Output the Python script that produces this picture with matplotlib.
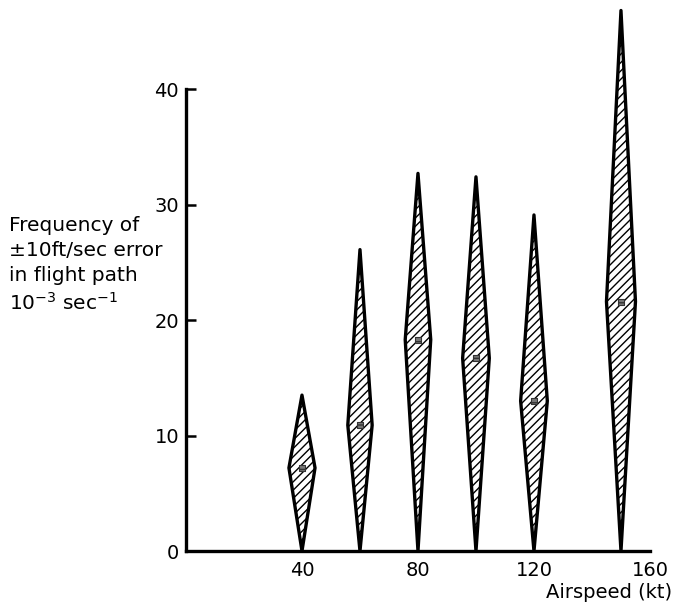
import numpy as np
import matplotlib
matplotlib.use("Agg")
import matplotlib.pyplot as plt
from matplotlib.patches import Polygon

# airspeed (kt) and error frequency (10^-3 per sec)
airspeed = [40, 60, 80, 100, 120, 150]
mean_freq = [7.2, 10.9, 18.3, 16.7, 13.0, 21.6]
max_freq = [13.5, 26.1, 32.7, 32.4, 29.1, 46.8]
min_freq = [0, 0, 0, 0, 0, 0]
half_width = [4.5, 4.2, 4.4, 4.6, 4.6, 5.0]  # diamond half width in kt

xticks = [40, 80, 120, 160]
yticks = [0, 10, 20, 30, 40]

plt.rcParams['hatch.linewidth'] = 1.0

fig = plt.figure(figsize=(6.83, 6.09), dpi=100)
ax = fig.add_axes([0.2723, 0.0952, 0.7218, 0.9008])

for x, m, hi, lo, w in zip(airspeed, mean_freq, max_freq, min_freq, half_width):
    verts = [(x, lo), (x + w, m), (x, hi), (x - w, m)]
    ax.add_patch(Polygon(verts, closed=True, facecolor='white',
                         edgecolor='black', linewidth=2.4, hatch='////',
                         joinstyle='round'))

ax.scatter(airspeed, mean_freq, marker='s', s=18, facecolor='#777777',
           edgecolor='#333333', linewidth=0.8, hatch='---', zorder=3)

ax.set_xlim(0, 170)
ax.set_ylim(0, 47.5)

for s in ['top', 'right']:
    ax.spines[s].set_visible(False)
ax.spines['left'].set_bounds(0, 40)
ax.spines['bottom'].set_bounds(0, 160)
ax.spines['left'].set_linewidth(2.4)
ax.spines['bottom'].set_linewidth(2.4)

ax.set_xticks(xticks)
ax.set_xticklabels([str(t) for t in xticks])
ax.tick_params(axis='x', length=0, pad=7, labelsize=14)
ax.set_xticks([160], minor=True)
ax.tick_params(axis='x', which='minor', direction='in', length=7, width=1.8)

ax.set_yticks(yticks)
ax.set_yticklabels([str(t) for t in yticks])
ax.tick_params(axis='y', direction='in', length=7, width=1.8, pad=5,
               labelsize=14)

ax.set_xlabel('Airspeed (kt)', fontsize=14)
ax.xaxis.set_label_coords(0.986, -0.058)
ax.xaxis.label.set_horizontalalignment('right')

fig.text(9 / 683, 1 - 216 / 609,
         'Frequency of\n±10ft/sec error\nin flight path\n10$^{-3}$ sec$^{-1}$',
         ha='left', va='top', fontsize=14.5, linespacing=1.4)

fig.savefig('out.png', dpi=100)
